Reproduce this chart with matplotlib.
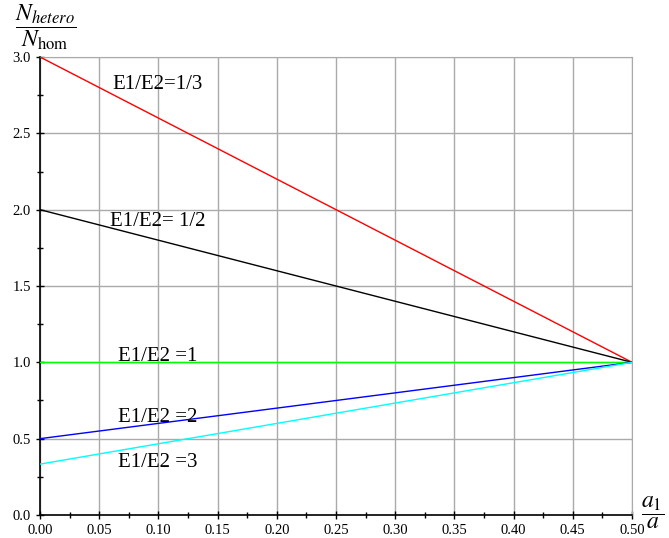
import matplotlib.pyplot as plt
import numpy as np

# dane: stosunki E1/E2 i wartosci na koncach
labels = ['E1/E2=1/3', 'E1/E2= 1/2', 'E1/E2 =1', 'E1/E2 =2', 'E1/E2 =3']
x_ends = [0.0, 0.5]
y_start = [3.0, 2.0, 1.0, 0.5, 1 / 3]
y_end = [1.0, 1.0, 1.0, 1.0, 1.0]
colors = ['#ff0000', '#000000', '#00ff00', '#0000ff', '#00ffff']
label_pos = [(0.061, 2.82), (0.059, 1.92), (0.066, 1.04), (0.066, 0.64), (0.066, 0.345)]

plt.rcParams['font.family'] = ['Liberation Serif', 'DejaVu Serif']
plt.rcParams['mathtext.fontset'] = 'stix'

fig = plt.figure(figsize=(6.69, 5.38), dpi=100)
ax = fig.add_axes([0.0598, 0.0428, 0.8849, 0.8512])

for ys, ye, c in zip(y_start, y_end, colors):
    ax.plot(x_ends, [ys, ye], color=c, lw=1, zorder=3)
for lab, (lx, ly) in zip(labels, label_pos):
    ax.text(lx, ly, lab, fontsize=15, va='center', ha='left', zorder=4)

ax.set_xlim(0, 0.5)
ax.set_ylim(0, 3.0)
ax.set_xticks(np.arange(0, 0.501, 0.05))
ax.set_xticks(np.arange(0.025, 0.5, 0.05), minor=True)
ax.set_yticks(np.arange(0, 3.01, 0.5))
ax.set_yticks(np.arange(0.25, 3.0, 0.5), minor=True)
ax.xaxis.set_major_formatter(plt.FormatStrFormatter('%.2f'))
ax.yaxis.set_major_formatter(plt.FormatStrFormatter('%.1f'))
ax.tick_params(which='both', direction='inout', labelsize=10.5, width=1)
ax.tick_params(which='major', length=6)
ax.tick_params(which='minor', length=5)
ax.grid(True, which='major', color='#aaaaaa', lw=1)
ax.set_axisbelow(True)

for s in ['top', 'right']:
    ax.spines[s].set_color('#aaaaaa')
for s in ['left', 'bottom']:
    ax.spines[s].set_color('black')
    ax.spines[s].set_linewidth(1.2)

fig.text(0.069, 0.95, r'$\dfrac{N_{hetero}}{N_{\mathrm{hom}}}$', fontsize=17, ha='center', va='center')
fig.text(0.975, 0.048, r'$\dfrac{a_1}{a}$', fontsize=17, ha='center', va='center')

fig.savefig('out.png', dpi=100)
